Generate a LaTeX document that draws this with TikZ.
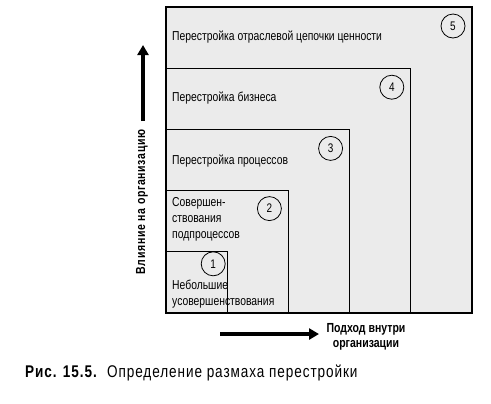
\documentclass[tikz,border=0pt]{standalone}
\usepackage{fontspec}
\setmainfont{Liberation Sans}[FakeStretch=0.8]
\newfontfamily\spacedfont{Liberation Sans}[FakeStretch=0.8, LetterSpace=5]
\newfontfamily\captionfont{Liberation Sans}[FakeStretch=0.8, LetterSpace=5.5]
\usetikzlibrary{arrows.meta, calc}
\definecolor{boxgray}{HTML}{EBEBEB}

\begin{document}
\begin{tikzpicture}[x=1bp, y=-1bp,
        level/.style={draw, line width=1.1bp, fill=boxgray},
        num/.style={draw, circle, line width=0.8bp, minimum size=24bp, inner sep=0pt,
            font=\fontsize{12.5}{14}\selectfont},
        lbl/.style={anchor=west, inner sep=0pt, align=left,
            font=\fontsize{13}{16}\selectfont},
        axis/.style={line width=4.5bp, -{Triangle[length=10bp, width=11bp]}},
        axislbl/.style={inner sep=0pt, align=center,
            font=\fontsize{13.2}{15}\selectfont\bfseries}]
            \path[use as bounding box] (0,0) rectangle (491,403);

            \coordinate (O) at (166,313);
            \foreach \i in {5,4,3,2,1}{
                \coordinate (C\i) at ($(O) + ({61.2*\i},{-61.2*\i})$);
                \draw[level] (O) rectangle (C\i);
            }
            \node[num] (n5) at ($(C5) + (-19,19)$) {5};
            \node[num] (n4) at ($(C4) + (-19,19)$) {4};
            \node[num] (n3) at ($(C3) + (-19,19)$) {3};
            \node[num] (n2) at ($(C2) + (-19,18)$) {2};
            \node[num] (n1) at ($(C1) + (-14,12)$) {1};

            \node[lbl] (t5) at (172,37) {Перестройка отраслевой цепочки ценности};
            \node[lbl] (t4) at (172,98) {Перестройка бизнеса};
            \node[lbl] (t3) at (172,161) {Перестройка процессов};
            \node[lbl] (t2) at (172,219) {Совершен-\\ствования\\подпроцессов};
            \node[lbl] (t1) at (172,294) {Небольшие\\усовершенствования};

            \coordinate (vs) at (143,121);
            \coordinate (ve) at (143,45);
            \draw[axis] (vs) -- (ve);
            \node[axislbl, rotate=90, font=\fontsize{13.2}{15}\spacedfont\bfseries] (vl) at (142,202)
                {Влияние на организацию};

            \coordinate (hs) at (220,334);
            \coordinate (he) at (319,334);
            \draw[axis] (hs) -- (he);
            \node[axislbl] (hl) at (366,337) {Подход внутри\\организации};

            \node[anchor=west, inner sep=0pt, font=\fontsize{17}{20}\captionfont] (cap) at (25,373)
                {\textbf{Рис. 15.5.}\ \ Определение размаха перестройки};
        \end{tikzpicture}
\end{document}
